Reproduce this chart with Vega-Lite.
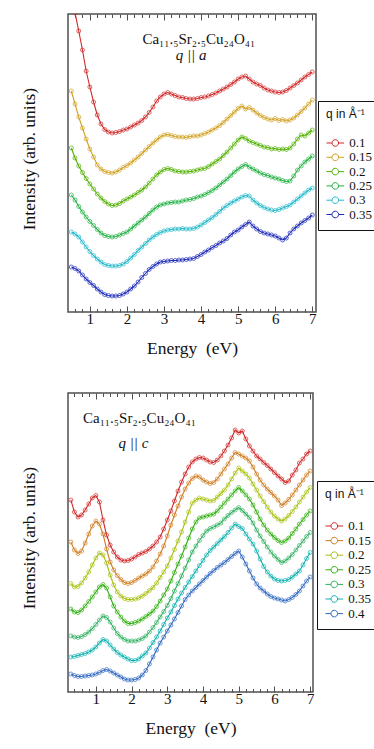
{
"$schema":"https://vega.github.io/schema/vega-lite/v6.json",
"padding":{"left":19,"top":12,"right":0,"bottom":0},
"background":"white",
"config":{
 "font":"Liberation Serif",
 "view":{"stroke":"#505050","strokeWidth":1.5},
 "axis":{"grid":false,"domain":false,"tickColor":"#505050","tickWidth":1,"labelColor":"#111","titleColor":"#111","titleFontWeight":"normal","labelFont":"Liberation Serif","titleFont":"Liberation Serif"},
 "legend":{"strokeColor":"#111","strokeWidth":1,"fillColor":"white","padding":8,"cornerRadius":0,
  "titleFont":"Liberation Sans","titleFontSize":12,"titleFontWeight":"normal","titleColor":"#111","titlePadding":15.5,
  "labelFont":"Liberation Serif","labelFontSize":13,"labelColor":"#111","rowPadding":0.3,
  "symbolType":"M-1.6,0L-0.6,0M0.6,0L1.6,0M0.6,0A0.6,0.6,0,1,1,-0.6,0A0.6,0.6,0,1,1,0.6,0",
  "symbolSize":121,"symbolStrokeWidth":1,"symbolFillColor":"transparent","symbolOffset":2.8,"labelOffset":7.5}
},
"datasets":{
"top":[
{"e":0.6,"q":"0.1","v":299},{"e":0.7,"q":"0.1","v":281},{"e":0.8,"q":"0.1","v":262},{"e":0.9,"q":"0.1","v":241},{"e":1.0,"q":"0.1","v":225},{"e":1.1,"q":"0.1","v":210},{"e":1.2,"q":"0.1","v":197},{"e":1.3,"q":"0.1","v":188},{"e":1.4,"q":"0.1","v":182.5},{"e":1.5,"q":"0.1","v":180},{"e":1.6,"q":"0.1","v":179},{"e":1.7,"q":"0.1","v":179.5},{"e":1.8,"q":"0.1","v":180.5},{"e":1.9,"q":"0.1","v":182},{"e":2.0,"q":"0.1","v":183},{"e":2.1,"q":"0.1","v":185},{"e":2.2,"q":"0.1","v":187},{"e":2.3,"q":"0.1","v":189},{"e":2.4,"q":"0.1","v":191.5},{"e":2.5,"q":"0.1","v":195},{"e":2.6,"q":"0.1","v":199.5},{"e":2.7,"q":"0.1","v":205},{"e":2.8,"q":"0.1","v":211},{"e":2.9,"q":"0.1","v":215},{"e":3.0,"q":"0.1","v":218},{"e":3.1,"q":"0.1","v":219.5},{"e":3.2,"q":"0.1","v":218},{"e":3.3,"q":"0.1","v":216.5},{"e":3.4,"q":"0.1","v":215},{"e":3.5,"q":"0.1","v":214.5},{"e":3.6,"q":"0.1","v":213.5},{"e":3.7,"q":"0.1","v":213},{"e":3.8,"q":"0.1","v":213},{"e":3.9,"q":"0.1","v":213.5},{"e":4.0,"q":"0.1","v":214.5},{"e":4.1,"q":"0.1","v":215},{"e":4.2,"q":"0.1","v":216},{"e":4.3,"q":"0.1","v":217.5},{"e":4.4,"q":"0.1","v":219},{"e":4.5,"q":"0.1","v":221},{"e":4.6,"q":"0.1","v":223},{"e":4.7,"q":"0.1","v":225},{"e":4.8,"q":"0.1","v":227.5},{"e":4.9,"q":"0.1","v":230},{"e":5.0,"q":"0.1","v":233},{"e":5.1,"q":"0.1","v":235},{"e":5.2,"q":"0.1","v":236},{"e":5.3,"q":"0.1","v":233},{"e":5.4,"q":"0.1","v":230},{"e":5.5,"q":"0.1","v":228},{"e":5.6,"q":"0.1","v":226.5},{"e":5.7,"q":"0.1","v":224},{"e":5.8,"q":"0.1","v":222},{"e":5.9,"q":"0.1","v":221},{"e":6.0,"q":"0.1","v":220},{"e":6.1,"q":"0.1","v":219.5},{"e":6.2,"q":"0.1","v":220},{"e":6.3,"q":"0.1","v":221.5},{"e":6.4,"q":"0.1","v":224},{"e":6.5,"q":"0.1","v":226.5},{"e":6.6,"q":"0.1","v":229},{"e":6.7,"q":"0.1","v":232},{"e":6.8,"q":"0.1","v":235},{"e":6.9,"q":"0.1","v":237.5},{"e":7.0,"q":"0.1","v":240},
{"e":0.5,"q":"0.15","v":221},{"e":0.6,"q":"0.15","v":208},{"e":0.7,"q":"0.15","v":195},{"e":0.8,"q":"0.15","v":184},{"e":0.9,"q":"0.15","v":173},{"e":1.0,"q":"0.15","v":163},{"e":1.1,"q":"0.15","v":155},{"e":1.2,"q":"0.15","v":147},{"e":1.3,"q":"0.15","v":143},{"e":1.4,"q":"0.15","v":140.5},{"e":1.5,"q":"0.15","v":139.5},{"e":1.6,"q":"0.15","v":139},{"e":1.7,"q":"0.15","v":140},{"e":1.8,"q":"0.15","v":142},{"e":1.9,"q":"0.15","v":144.5},{"e":2.0,"q":"0.15","v":146.5},{"e":2.1,"q":"0.15","v":149},{"e":2.2,"q":"0.15","v":152},{"e":2.3,"q":"0.15","v":155},{"e":2.4,"q":"0.15","v":158.5},{"e":2.5,"q":"0.15","v":162},{"e":2.6,"q":"0.15","v":165.5},{"e":2.7,"q":"0.15","v":169},{"e":2.8,"q":"0.15","v":172},{"e":2.9,"q":"0.15","v":175},{"e":3.0,"q":"0.15","v":177},{"e":3.1,"q":"0.15","v":177.5},{"e":3.2,"q":"0.15","v":176.5},{"e":3.3,"q":"0.15","v":175.5},{"e":3.4,"q":"0.15","v":175},{"e":3.5,"q":"0.15","v":175},{"e":3.6,"q":"0.15","v":174.5},{"e":3.7,"q":"0.15","v":175.5},{"e":3.8,"q":"0.15","v":176},{"e":3.9,"q":"0.15","v":176},{"e":4.0,"q":"0.15","v":177},{"e":4.1,"q":"0.15","v":178.5},{"e":4.2,"q":"0.15","v":180},{"e":4.3,"q":"0.15","v":182},{"e":4.4,"q":"0.15","v":184},{"e":4.5,"q":"0.15","v":186.5},{"e":4.6,"q":"0.15","v":189.5},{"e":4.7,"q":"0.15","v":193},{"e":4.8,"q":"0.15","v":196.5},{"e":4.9,"q":"0.15","v":200},{"e":5.0,"q":"0.15","v":203.5},{"e":5.1,"q":"0.15","v":206},{"e":5.2,"q":"0.15","v":203},{"e":5.3,"q":"0.15","v":204.5},{"e":5.4,"q":"0.15","v":202},{"e":5.5,"q":"0.15","v":199},{"e":5.6,"q":"0.15","v":196.5},{"e":5.7,"q":"0.15","v":194.5},{"e":5.8,"q":"0.15","v":193},{"e":5.9,"q":"0.15","v":192},{"e":6.0,"q":"0.15","v":193.5},{"e":6.1,"q":"0.15","v":191.5},{"e":6.2,"q":"0.15","v":192.5},{"e":6.3,"q":"0.15","v":191},{"e":6.4,"q":"0.15","v":192},{"e":6.5,"q":"0.15","v":194},{"e":6.6,"q":"0.15","v":197},{"e":6.7,"q":"0.15","v":200.5},{"e":6.8,"q":"0.15","v":204},{"e":6.9,"q":"0.15","v":208},{"e":7.0,"q":"0.15","v":212},
{"e":0.5,"q":"0.2","v":164},{"e":0.6,"q":"0.2","v":154},{"e":0.7,"q":"0.2","v":146},{"e":0.8,"q":"0.2","v":139.5},{"e":0.9,"q":"0.2","v":133.5},{"e":1.0,"q":"0.2","v":128},{"e":1.1,"q":"0.2","v":123},{"e":1.2,"q":"0.2","v":118},{"e":1.3,"q":"0.2","v":114},{"e":1.4,"q":"0.2","v":110.5},{"e":1.5,"q":"0.2","v":108},{"e":1.6,"q":"0.2","v":106.5},{"e":1.7,"q":"0.2","v":107},{"e":1.8,"q":"0.2","v":108.5},{"e":1.9,"q":"0.2","v":111},{"e":2.0,"q":"0.2","v":113},{"e":2.1,"q":"0.2","v":115},{"e":2.2,"q":"0.2","v":117},{"e":2.3,"q":"0.2","v":119.5},{"e":2.4,"q":"0.2","v":122},{"e":2.5,"q":"0.2","v":125},{"e":2.6,"q":"0.2","v":129},{"e":2.7,"q":"0.2","v":133},{"e":2.8,"q":"0.2","v":137},{"e":2.9,"q":"0.2","v":140},{"e":3.0,"q":"0.2","v":142.5},{"e":3.1,"q":"0.2","v":143.5},{"e":3.2,"q":"0.2","v":142.5},{"e":3.3,"q":"0.2","v":141},{"e":3.4,"q":"0.2","v":140.5},{"e":3.5,"q":"0.2","v":140},{"e":3.6,"q":"0.2","v":140},{"e":3.7,"q":"0.2","v":140.5},{"e":3.8,"q":"0.2","v":141},{"e":3.9,"q":"0.2","v":142},{"e":4.0,"q":"0.2","v":143},{"e":4.1,"q":"0.2","v":143.5},{"e":4.2,"q":"0.2","v":145.5},{"e":4.3,"q":"0.2","v":148},{"e":4.4,"q":"0.2","v":150.5},{"e":4.5,"q":"0.2","v":153},{"e":4.6,"q":"0.2","v":156.5},{"e":4.7,"q":"0.2","v":160},{"e":4.8,"q":"0.2","v":164},{"e":4.9,"q":"0.2","v":168},{"e":5.0,"q":"0.2","v":172},{"e":5.1,"q":"0.2","v":175},{"e":5.2,"q":"0.2","v":173.5},{"e":5.3,"q":"0.2","v":171},{"e":5.4,"q":"0.2","v":169.5},{"e":5.5,"q":"0.2","v":168},{"e":5.6,"q":"0.2","v":166.5},{"e":5.7,"q":"0.2","v":165},{"e":5.8,"q":"0.2","v":164.5},{"e":5.9,"q":"0.2","v":163},{"e":6.0,"q":"0.2","v":163.5},{"e":6.1,"q":"0.2","v":162.5},{"e":6.2,"q":"0.2","v":163},{"e":6.3,"q":"0.2","v":162.5},{"e":6.4,"q":"0.2","v":164},{"e":6.5,"q":"0.2","v":168},{"e":6.6,"q":"0.2","v":173},{"e":6.7,"q":"0.2","v":177},{"e":6.8,"q":"0.2","v":176},{"e":6.9,"q":"0.2","v":179},{"e":7.0,"q":"0.2","v":182},
{"e":0.5,"q":"0.25","v":117},{"e":0.6,"q":"0.25","v":112},{"e":0.7,"q":"0.25","v":105.5},{"e":0.8,"q":"0.25","v":100},{"e":0.9,"q":"0.25","v":95},{"e":1.0,"q":"0.25","v":90.5},{"e":1.1,"q":"0.25","v":86.5},{"e":1.2,"q":"0.25","v":82.5},{"e":1.3,"q":"0.25","v":79},{"e":1.4,"q":"0.25","v":76.5},{"e":1.5,"q":"0.25","v":75.5},{"e":1.6,"q":"0.25","v":75},{"e":1.7,"q":"0.25","v":75.5},{"e":1.8,"q":"0.25","v":77},{"e":1.9,"q":"0.25","v":78.5},{"e":2.0,"q":"0.25","v":80},{"e":2.1,"q":"0.25","v":83},{"e":2.2,"q":"0.25","v":86},{"e":2.3,"q":"0.25","v":89},{"e":2.4,"q":"0.25","v":92},{"e":2.5,"q":"0.25","v":95},{"e":2.6,"q":"0.25","v":98.5},{"e":2.7,"q":"0.25","v":102},{"e":2.8,"q":"0.25","v":105},{"e":2.9,"q":"0.25","v":107},{"e":3.0,"q":"0.25","v":108},{"e":3.1,"q":"0.25","v":109},{"e":3.2,"q":"0.25","v":109.5},{"e":3.3,"q":"0.25","v":110},{"e":3.4,"q":"0.25","v":110},{"e":3.5,"q":"0.25","v":111},{"e":3.6,"q":"0.25","v":112},{"e":3.7,"q":"0.25","v":112.5},{"e":3.8,"q":"0.25","v":113.5},{"e":3.9,"q":"0.25","v":115},{"e":4.0,"q":"0.25","v":116},{"e":4.1,"q":"0.25","v":117.5},{"e":4.2,"q":"0.25","v":119.5},{"e":4.3,"q":"0.25","v":121.5},{"e":4.4,"q":"0.25","v":124},{"e":4.5,"q":"0.25","v":127},{"e":4.6,"q":"0.25","v":130},{"e":4.7,"q":"0.25","v":133},{"e":4.8,"q":"0.25","v":136.5},{"e":4.9,"q":"0.25","v":140},{"e":5.0,"q":"0.25","v":143},{"e":5.1,"q":"0.25","v":145.5},{"e":5.2,"q":"0.25","v":147.5},{"e":5.3,"q":"0.25","v":145},{"e":5.4,"q":"0.25","v":143},{"e":5.5,"q":"0.25","v":141},{"e":5.6,"q":"0.25","v":139},{"e":5.7,"q":"0.25","v":137.5},{"e":5.8,"q":"0.25","v":136.5},{"e":5.9,"q":"0.25","v":135},{"e":6.0,"q":"0.25","v":134},{"e":6.1,"q":"0.25","v":133},{"e":6.2,"q":"0.25","v":131.5},{"e":6.3,"q":"0.25","v":130.5},{"e":6.4,"q":"0.25","v":131},{"e":6.5,"q":"0.25","v":136},{"e":6.6,"q":"0.25","v":142},{"e":6.7,"q":"0.25","v":146},{"e":6.8,"q":"0.25","v":150},{"e":6.9,"q":"0.25","v":153},{"e":7.0,"q":"0.25","v":156},
{"e":0.5,"q":"0.3","v":80},{"e":0.6,"q":"0.3","v":78},{"e":0.7,"q":"0.3","v":75},{"e":0.8,"q":"0.3","v":70},{"e":0.9,"q":"0.3","v":65},{"e":1.0,"q":"0.3","v":60.5},{"e":1.1,"q":"0.3","v":56.5},{"e":1.2,"q":"0.3","v":53},{"e":1.3,"q":"0.3","v":50},{"e":1.4,"q":"0.3","v":47.5},{"e":1.5,"q":"0.3","v":46.5},{"e":1.6,"q":"0.3","v":46},{"e":1.7,"q":"0.3","v":46},{"e":1.8,"q":"0.3","v":46.5},{"e":1.9,"q":"0.3","v":48},{"e":2.0,"q":"0.3","v":50.5},{"e":2.1,"q":"0.3","v":54},{"e":2.2,"q":"0.3","v":57.5},{"e":2.3,"q":"0.3","v":61.5},{"e":2.4,"q":"0.3","v":65},{"e":2.5,"q":"0.3","v":68.5},{"e":2.6,"q":"0.3","v":72},{"e":2.7,"q":"0.3","v":75},{"e":2.8,"q":"0.3","v":77.5},{"e":2.9,"q":"0.3","v":79.5},{"e":3.0,"q":"0.3","v":81},{"e":3.1,"q":"0.3","v":82},{"e":3.2,"q":"0.3","v":82.5},{"e":3.3,"q":"0.3","v":83},{"e":3.4,"q":"0.3","v":83},{"e":3.5,"q":"0.3","v":83.5},{"e":3.6,"q":"0.3","v":83},{"e":3.7,"q":"0.3","v":83},{"e":3.8,"q":"0.3","v":83.5},{"e":3.9,"q":"0.3","v":85},{"e":4.0,"q":"0.3","v":87},{"e":4.1,"q":"0.3","v":89.5},{"e":4.2,"q":"0.3","v":92},{"e":4.3,"q":"0.3","v":94.5},{"e":4.4,"q":"0.3","v":97.5},{"e":4.5,"q":"0.3","v":100.5},{"e":4.6,"q":"0.3","v":104},{"e":4.7,"q":"0.3","v":106.5},{"e":4.8,"q":"0.3","v":109},{"e":4.9,"q":"0.3","v":111},{"e":5.0,"q":"0.3","v":113},{"e":5.1,"q":"0.3","v":115},{"e":5.2,"q":"0.3","v":116.5},{"e":5.3,"q":"0.3","v":116},{"e":5.4,"q":"0.3","v":112},{"e":5.5,"q":"0.3","v":109},{"e":5.6,"q":"0.3","v":106.5},{"e":5.7,"q":"0.3","v":104.5},{"e":5.8,"q":"0.3","v":103},{"e":5.9,"q":"0.3","v":102},{"e":6.0,"q":"0.3","v":101.5},{"e":6.1,"q":"0.3","v":102.5},{"e":6.2,"q":"0.3","v":104},{"e":6.3,"q":"0.3","v":105.5},{"e":6.4,"q":"0.3","v":107},{"e":6.5,"q":"0.3","v":110},{"e":6.6,"q":"0.3","v":113},{"e":6.7,"q":"0.3","v":116},{"e":6.8,"q":"0.3","v":119},{"e":6.9,"q":"0.3","v":122},{"e":7.0,"q":"0.3","v":124},
{"e":0.5,"q":"0.35","v":45},{"e":0.6,"q":"0.35","v":43.5},{"e":0.7,"q":"0.35","v":41},{"e":0.8,"q":"0.35","v":37},{"e":0.9,"q":"0.35","v":33},{"e":1.0,"q":"0.35","v":29.5},{"e":1.1,"q":"0.35","v":26.5},{"e":1.2,"q":"0.35","v":23},{"e":1.3,"q":"0.35","v":20},{"e":1.4,"q":"0.35","v":17.5},{"e":1.5,"q":"0.35","v":16.5},{"e":1.6,"q":"0.35","v":16},{"e":1.7,"q":"0.35","v":16},{"e":1.8,"q":"0.35","v":16.5},{"e":1.9,"q":"0.35","v":18},{"e":2.0,"q":"0.35","v":20},{"e":2.1,"q":"0.35","v":23},{"e":2.2,"q":"0.35","v":26},{"e":2.3,"q":"0.35","v":30},{"e":2.4,"q":"0.35","v":34.5},{"e":2.5,"q":"0.35","v":38.5},{"e":2.6,"q":"0.35","v":42.5},{"e":2.7,"q":"0.35","v":45.5},{"e":2.8,"q":"0.35","v":48},{"e":2.9,"q":"0.35","v":50},{"e":3.0,"q":"0.35","v":50.5},{"e":3.1,"q":"0.35","v":51},{"e":3.2,"q":"0.35","v":51.5},{"e":3.3,"q":"0.35","v":51.5},{"e":3.4,"q":"0.35","v":52},{"e":3.5,"q":"0.35","v":52},{"e":3.6,"q":"0.35","v":52.5},{"e":3.7,"q":"0.35","v":53},{"e":3.8,"q":"0.35","v":53.5},{"e":3.9,"q":"0.35","v":55.5},{"e":4.0,"q":"0.35","v":57.5},{"e":4.1,"q":"0.35","v":60},{"e":4.2,"q":"0.35","v":62},{"e":4.3,"q":"0.35","v":64.5},{"e":4.4,"q":"0.35","v":66.5},{"e":4.5,"q":"0.35","v":69},{"e":4.6,"q":"0.35","v":71},{"e":4.7,"q":"0.35","v":73.5},{"e":4.8,"q":"0.35","v":77},{"e":4.9,"q":"0.35","v":80},{"e":5.0,"q":"0.35","v":82},{"e":5.1,"q":"0.35","v":85},{"e":5.2,"q":"0.35","v":87.5},{"e":5.3,"q":"0.35","v":90},{"e":5.4,"q":"0.35","v":86},{"e":5.5,"q":"0.35","v":83},{"e":5.6,"q":"0.35","v":80.5},{"e":5.7,"q":"0.35","v":79},{"e":5.8,"q":"0.35","v":78},{"e":5.9,"q":"0.35","v":77},{"e":6.0,"q":"0.35","v":76},{"e":6.1,"q":"0.35","v":74},{"e":6.2,"q":"0.35","v":72},{"e":6.3,"q":"0.35","v":74},{"e":6.4,"q":"0.35","v":79},{"e":6.5,"q":"0.35","v":83},{"e":6.6,"q":"0.35","v":86},{"e":6.7,"q":"0.35","v":89},{"e":6.8,"q":"0.35","v":91.5},{"e":6.9,"q":"0.35","v":94},{"e":7.0,"q":"0.35","v":97}
],
"bot":[
{"e":0.3,"q":"0.1","v":192},{"e":0.4,"q":"0.1","v":180},{"e":0.5,"q":"0.1","v":175},{"e":0.6,"q":"0.1","v":177},{"e":0.7,"q":"0.1","v":182},{"e":0.8,"q":"0.1","v":188},{"e":0.9,"q":"0.1","v":194},{"e":1.0,"q":"0.1","v":196.5},{"e":1.1,"q":"0.1","v":190},{"e":1.2,"q":"0.1","v":172},{"e":1.3,"q":"0.1","v":157},{"e":1.4,"q":"0.1","v":147},{"e":1.5,"q":"0.1","v":140},{"e":1.6,"q":"0.1","v":135},{"e":1.7,"q":"0.1","v":132},{"e":1.8,"q":"0.1","v":131},{"e":1.9,"q":"0.1","v":131.5},{"e":2.0,"q":"0.1","v":133},{"e":2.1,"q":"0.1","v":135},{"e":2.2,"q":"0.1","v":137.5},{"e":2.3,"q":"0.1","v":139},{"e":2.4,"q":"0.1","v":140.5},{"e":2.5,"q":"0.1","v":143},{"e":2.6,"q":"0.1","v":146},{"e":2.7,"q":"0.1","v":150},{"e":2.8,"q":"0.1","v":155},{"e":2.9,"q":"0.1","v":163},{"e":3.0,"q":"0.1","v":172},{"e":3.1,"q":"0.1","v":181},{"e":3.2,"q":"0.1","v":191},{"e":3.3,"q":"0.1","v":201},{"e":3.4,"q":"0.1","v":210},{"e":3.5,"q":"0.1","v":218},{"e":3.6,"q":"0.1","v":225},{"e":3.7,"q":"0.1","v":230},{"e":3.8,"q":"0.1","v":233},{"e":3.9,"q":"0.1","v":234.5},{"e":4.0,"q":"0.1","v":234},{"e":4.1,"q":"0.1","v":232},{"e":4.2,"q":"0.1","v":230},{"e":4.3,"q":"0.1","v":229.5},{"e":4.4,"q":"0.1","v":232},{"e":4.5,"q":"0.1","v":236},{"e":4.6,"q":"0.1","v":241},{"e":4.7,"q":"0.1","v":247},{"e":4.8,"q":"0.1","v":254},{"e":4.9,"q":"0.1","v":262},{"e":5.0,"q":"0.1","v":259},{"e":5.1,"q":"0.1","v":261},{"e":5.2,"q":"0.1","v":253},{"e":5.3,"q":"0.1","v":246},{"e":5.4,"q":"0.1","v":241},{"e":5.5,"q":"0.1","v":236},{"e":5.6,"q":"0.1","v":233},{"e":5.7,"q":"0.1","v":229.5},{"e":5.8,"q":"0.1","v":226.5},{"e":5.9,"q":"0.1","v":223},{"e":6.0,"q":"0.1","v":219.5},{"e":6.1,"q":"0.1","v":216},{"e":6.2,"q":"0.1","v":213},{"e":6.3,"q":"0.1","v":209.5},{"e":6.4,"q":"0.1","v":211},{"e":6.5,"q":"0.1","v":217},{"e":6.6,"q":"0.1","v":222},{"e":6.7,"q":"0.1","v":229},{"e":6.8,"q":"0.1","v":233},{"e":6.9,"q":"0.1","v":238},{"e":7.0,"q":"0.1","v":241},
{"e":0.3,"q":"0.15","v":150},{"e":0.4,"q":"0.15","v":142},{"e":0.5,"q":"0.15","v":138.5},{"e":0.6,"q":"0.15","v":141},{"e":0.7,"q":"0.15","v":149},{"e":0.8,"q":"0.15","v":158},{"e":0.9,"q":"0.15","v":166},{"e":1.0,"q":"0.15","v":171},{"e":1.1,"q":"0.15","v":168},{"e":1.2,"q":"0.15","v":158},{"e":1.3,"q":"0.15","v":143},{"e":1.4,"q":"0.15","v":130},{"e":1.5,"q":"0.15","v":122},{"e":1.6,"q":"0.15","v":116.5},{"e":1.7,"q":"0.15","v":112.5},{"e":1.8,"q":"0.15","v":109.5},{"e":1.9,"q":"0.15","v":108.5},{"e":2.0,"q":"0.15","v":109.5},{"e":2.1,"q":"0.15","v":111.5},{"e":2.2,"q":"0.15","v":114},{"e":2.3,"q":"0.15","v":116},{"e":2.4,"q":"0.15","v":118},{"e":2.5,"q":"0.15","v":121},{"e":2.6,"q":"0.15","v":125},{"e":2.7,"q":"0.15","v":131},{"e":2.8,"q":"0.15","v":138},{"e":2.9,"q":"0.15","v":146},{"e":3.0,"q":"0.15","v":156},{"e":3.1,"q":"0.15","v":167},{"e":3.2,"q":"0.15","v":177},{"e":3.3,"q":"0.15","v":186},{"e":3.4,"q":"0.15","v":195},{"e":3.5,"q":"0.15","v":203},{"e":3.6,"q":"0.15","v":209},{"e":3.7,"q":"0.15","v":213.5},{"e":3.8,"q":"0.15","v":216},{"e":3.9,"q":"0.15","v":215},{"e":4.0,"q":"0.15","v":212},{"e":4.1,"q":"0.15","v":210},{"e":4.2,"q":"0.15","v":208.5},{"e":4.3,"q":"0.15","v":209.5},{"e":4.4,"q":"0.15","v":213},{"e":4.5,"q":"0.15","v":218},{"e":4.6,"q":"0.15","v":223},{"e":4.7,"q":"0.15","v":228},{"e":4.8,"q":"0.15","v":234},{"e":4.9,"q":"0.15","v":239.5},{"e":5.0,"q":"0.15","v":238},{"e":5.1,"q":"0.15","v":236},{"e":5.2,"q":"0.15","v":234},{"e":5.3,"q":"0.15","v":231},{"e":5.4,"q":"0.15","v":225},{"e":5.5,"q":"0.15","v":218},{"e":5.6,"q":"0.15","v":212},{"e":5.7,"q":"0.15","v":207},{"e":5.8,"q":"0.15","v":203},{"e":5.9,"q":"0.15","v":199.5},{"e":6.0,"q":"0.15","v":196},{"e":6.1,"q":"0.15","v":192},{"e":6.2,"q":"0.15","v":186.5},{"e":6.3,"q":"0.15","v":189},{"e":6.4,"q":"0.15","v":192.5},{"e":6.5,"q":"0.15","v":197},{"e":6.6,"q":"0.15","v":202},{"e":6.7,"q":"0.15","v":207},{"e":6.8,"q":"0.15","v":212},{"e":6.9,"q":"0.15","v":217},{"e":7.0,"q":"0.15","v":221},
{"e":0.3,"q":"0.2","v":108.5},{"e":0.4,"q":"0.2","v":105},{"e":0.5,"q":"0.2","v":105.5},{"e":0.6,"q":"0.2","v":109},{"e":0.7,"q":"0.2","v":114},{"e":0.8,"q":"0.2","v":120},{"e":0.9,"q":"0.2","v":127},{"e":1.0,"q":"0.2","v":134},{"e":1.1,"q":"0.2","v":139},{"e":1.2,"q":"0.2","v":137},{"e":1.3,"q":"0.2","v":129},{"e":1.4,"q":"0.2","v":117},{"e":1.5,"q":"0.2","v":107},{"e":1.6,"q":"0.2","v":100},{"e":1.7,"q":"0.2","v":96},{"e":1.8,"q":"0.2","v":93.5},{"e":1.9,"q":"0.2","v":92.5},{"e":2.0,"q":"0.2","v":92.5},{"e":2.1,"q":"0.2","v":93},{"e":2.2,"q":"0.2","v":94},{"e":2.3,"q":"0.2","v":96},{"e":2.4,"q":"0.2","v":98.5},{"e":2.5,"q":"0.2","v":101.5},{"e":2.6,"q":"0.2","v":104.5},{"e":2.7,"q":"0.2","v":109},{"e":2.8,"q":"0.2","v":114.5},{"e":2.9,"q":"0.2","v":120},{"e":3.0,"q":"0.2","v":126},{"e":3.1,"q":"0.2","v":134},{"e":3.2,"q":"0.2","v":142.5},{"e":3.3,"q":"0.2","v":151},{"e":3.4,"q":"0.2","v":160},{"e":3.5,"q":"0.2","v":170},{"e":3.6,"q":"0.2","v":180},{"e":3.7,"q":"0.2","v":189},{"e":3.8,"q":"0.2","v":192},{"e":3.9,"q":"0.2","v":194},{"e":4.0,"q":"0.2","v":193},{"e":4.1,"q":"0.2","v":192},{"e":4.2,"q":"0.2","v":191},{"e":4.3,"q":"0.2","v":191.5},{"e":4.4,"q":"0.2","v":195},{"e":4.5,"q":"0.2","v":198.5},{"e":4.6,"q":"0.2","v":202},{"e":4.7,"q":"0.2","v":207},{"e":4.8,"q":"0.2","v":213},{"e":4.9,"q":"0.2","v":219},{"e":5.0,"q":"0.2","v":224},{"e":5.1,"q":"0.2","v":221},{"e":5.2,"q":"0.2","v":218},{"e":5.3,"q":"0.2","v":214},{"e":5.4,"q":"0.2","v":208},{"e":5.5,"q":"0.2","v":202},{"e":5.6,"q":"0.2","v":196},{"e":5.7,"q":"0.2","v":190.5},{"e":5.8,"q":"0.2","v":185},{"e":5.9,"q":"0.2","v":180},{"e":6.0,"q":"0.2","v":176},{"e":6.1,"q":"0.2","v":173},{"e":6.2,"q":"0.2","v":171},{"e":6.3,"q":"0.2","v":173},{"e":6.4,"q":"0.2","v":176.5},{"e":6.5,"q":"0.2","v":180.5},{"e":6.6,"q":"0.2","v":185},{"e":6.7,"q":"0.2","v":190},{"e":6.8,"q":"0.2","v":195},{"e":6.9,"q":"0.2","v":200},{"e":7.0,"q":"0.2","v":204.5},
{"e":0.3,"q":"0.25","v":83},{"e":0.4,"q":"0.25","v":80},{"e":0.5,"q":"0.25","v":79.5},{"e":0.6,"q":"0.25","v":82},{"e":0.7,"q":"0.25","v":86},{"e":0.8,"q":"0.25","v":90.5},{"e":0.9,"q":"0.25","v":95},{"e":1.0,"q":"0.25","v":100},{"e":1.1,"q":"0.25","v":105},{"e":1.2,"q":"0.25","v":107.5},{"e":1.3,"q":"0.25","v":104},{"e":1.4,"q":"0.25","v":95},{"e":1.5,"q":"0.25","v":86},{"e":1.6,"q":"0.25","v":80},{"e":1.7,"q":"0.25","v":75},{"e":1.8,"q":"0.25","v":71},{"e":1.9,"q":"0.25","v":68.5},{"e":2.0,"q":"0.25","v":68.5},{"e":2.1,"q":"0.25","v":69.5},{"e":2.2,"q":"0.25","v":71},{"e":2.3,"q":"0.25","v":73},{"e":2.4,"q":"0.25","v":75.5},{"e":2.5,"q":"0.25","v":78},{"e":2.6,"q":"0.25","v":81},{"e":2.7,"q":"0.25","v":85.5},{"e":2.8,"q":"0.25","v":91},{"e":2.9,"q":"0.25","v":97},{"e":3.0,"q":"0.25","v":103},{"e":3.1,"q":"0.25","v":111},{"e":3.2,"q":"0.25","v":119.5},{"e":3.3,"q":"0.25","v":128},{"e":3.4,"q":"0.25","v":136},{"e":3.5,"q":"0.25","v":145},{"e":3.6,"q":"0.25","v":154},{"e":3.7,"q":"0.25","v":163},{"e":3.8,"q":"0.25","v":170},{"e":3.9,"q":"0.25","v":174},{"e":4.0,"q":"0.25","v":175},{"e":4.1,"q":"0.25","v":176},{"e":4.2,"q":"0.25","v":177},{"e":4.3,"q":"0.25","v":178},{"e":4.4,"q":"0.25","v":181},{"e":4.5,"q":"0.25","v":185},{"e":4.6,"q":"0.25","v":189},{"e":4.7,"q":"0.25","v":193},{"e":4.8,"q":"0.25","v":197},{"e":4.9,"q":"0.25","v":201},{"e":5.0,"q":"0.25","v":204.5},{"e":5.1,"q":"0.25","v":201},{"e":5.2,"q":"0.25","v":197},{"e":5.3,"q":"0.25","v":193},{"e":5.4,"q":"0.25","v":187},{"e":5.5,"q":"0.25","v":180},{"e":5.6,"q":"0.25","v":173},{"e":5.7,"q":"0.25","v":167},{"e":5.8,"q":"0.25","v":162},{"e":5.9,"q":"0.25","v":158},{"e":6.0,"q":"0.25","v":154.5},{"e":6.1,"q":"0.25","v":151.5},{"e":6.2,"q":"0.25","v":149.5},{"e":6.3,"q":"0.25","v":151},{"e":6.4,"q":"0.25","v":154},{"e":6.5,"q":"0.25","v":158.5},{"e":6.6,"q":"0.25","v":163},{"e":6.7,"q":"0.25","v":168},{"e":6.8,"q":"0.25","v":172.5},{"e":6.9,"q":"0.25","v":177},{"e":7.0,"q":"0.25","v":181},
{"e":0.3,"q":"0.3","v":56},{"e":0.4,"q":"0.3","v":55},{"e":0.5,"q":"0.3","v":54.5},{"e":0.6,"q":"0.3","v":55.5},{"e":0.7,"q":"0.3","v":57.5},{"e":0.8,"q":"0.3","v":60},{"e":0.9,"q":"0.3","v":63.5},{"e":1.0,"q":"0.3","v":67.5},{"e":1.1,"q":"0.3","v":72},{"e":1.2,"q":"0.3","v":76},{"e":1.3,"q":"0.3","v":74.5},{"e":1.4,"q":"0.3","v":70},{"e":1.5,"q":"0.3","v":64},{"e":1.6,"q":"0.3","v":58.5},{"e":1.7,"q":"0.3","v":55},{"e":1.8,"q":"0.3","v":52.5},{"e":1.9,"q":"0.3","v":51},{"e":2.0,"q":"0.3","v":51},{"e":2.1,"q":"0.3","v":51},{"e":2.2,"q":"0.3","v":52},{"e":2.3,"q":"0.3","v":53.5},{"e":2.4,"q":"0.3","v":56},{"e":2.5,"q":"0.3","v":60},{"e":2.6,"q":"0.3","v":64.5},{"e":2.7,"q":"0.3","v":69.5},{"e":2.8,"q":"0.3","v":75},{"e":2.9,"q":"0.3","v":80.5},{"e":3.0,"q":"0.3","v":86.5},{"e":3.1,"q":"0.3","v":93.5},{"e":3.2,"q":"0.3","v":101},{"e":3.3,"q":"0.3","v":108.5},{"e":3.4,"q":"0.3","v":116},{"e":3.5,"q":"0.3","v":124},{"e":3.6,"q":"0.3","v":132},{"e":3.7,"q":"0.3","v":140},{"e":3.8,"q":"0.3","v":146},{"e":3.9,"q":"0.3","v":151.5},{"e":4.0,"q":"0.3","v":156.5},{"e":4.1,"q":"0.3","v":161},{"e":4.2,"q":"0.3","v":163.5},{"e":4.3,"q":"0.3","v":165},{"e":4.4,"q":"0.3","v":167},{"e":4.5,"q":"0.3","v":169},{"e":4.6,"q":"0.3","v":173},{"e":4.7,"q":"0.3","v":176.5},{"e":4.8,"q":"0.3","v":179.5},{"e":4.9,"q":"0.3","v":182},{"e":5.0,"q":"0.3","v":184.5},{"e":5.1,"q":"0.3","v":181.5},{"e":5.2,"q":"0.3","v":178},{"e":5.3,"q":"0.3","v":174.5},{"e":5.4,"q":"0.3","v":169},{"e":5.5,"q":"0.3","v":162},{"e":5.6,"q":"0.3","v":156},{"e":5.7,"q":"0.3","v":150.5},{"e":5.8,"q":"0.3","v":145},{"e":5.9,"q":"0.3","v":140},{"e":6.0,"q":"0.3","v":136},{"e":6.1,"q":"0.3","v":132.5},{"e":6.2,"q":"0.3","v":129.5},{"e":6.3,"q":"0.3","v":131},{"e":6.4,"q":"0.3","v":134},{"e":6.5,"q":"0.3","v":137.5},{"e":6.6,"q":"0.3","v":142},{"e":6.7,"q":"0.3","v":146.5},{"e":6.8,"q":"0.3","v":151},{"e":6.9,"q":"0.3","v":155.5},{"e":7.0,"q":"0.3","v":159.5},
{"e":0.3,"q":"0.35","v":35},{"e":0.4,"q":"0.35","v":35.5},{"e":0.5,"q":"0.35","v":36.5},{"e":0.6,"q":"0.35","v":37.5},{"e":0.7,"q":"0.35","v":38.5},{"e":0.8,"q":"0.35","v":40},{"e":0.9,"q":"0.35","v":42},{"e":1.0,"q":"0.35","v":45},{"e":1.1,"q":"0.35","v":49},{"e":1.2,"q":"0.35","v":52.5},{"e":1.3,"q":"0.35","v":51},{"e":1.4,"q":"0.35","v":47},{"e":1.5,"q":"0.35","v":43},{"e":1.6,"q":"0.35","v":39.5},{"e":1.7,"q":"0.35","v":37},{"e":1.8,"q":"0.35","v":35},{"e":1.9,"q":"0.35","v":33},{"e":2.0,"q":"0.35","v":31.5},{"e":2.1,"q":"0.35","v":31.5},{"e":2.2,"q":"0.35","v":33},{"e":2.3,"q":"0.35","v":36},{"e":2.4,"q":"0.35","v":39},{"e":2.5,"q":"0.35","v":44},{"e":2.6,"q":"0.35","v":49.5},{"e":2.7,"q":"0.35","v":55},{"e":2.8,"q":"0.35","v":61},{"e":2.9,"q":"0.35","v":67.5},{"e":3.0,"q":"0.35","v":74},{"e":3.1,"q":"0.35","v":80},{"e":3.2,"q":"0.35","v":86.5},{"e":3.3,"q":"0.35","v":93},{"e":3.4,"q":"0.35","v":99},{"e":3.5,"q":"0.35","v":104.5},{"e":3.6,"q":"0.35","v":110},{"e":3.7,"q":"0.35","v":115.5},{"e":3.8,"q":"0.35","v":121},{"e":3.9,"q":"0.35","v":126.5},{"e":4.0,"q":"0.35","v":131.5},{"e":4.1,"q":"0.35","v":137},{"e":4.2,"q":"0.35","v":141.5},{"e":4.3,"q":"0.35","v":145},{"e":4.4,"q":"0.35","v":148.5},{"e":4.5,"q":"0.35","v":152},{"e":4.6,"q":"0.35","v":155.5},{"e":4.7,"q":"0.35","v":159.5},{"e":4.8,"q":"0.35","v":164},{"e":4.9,"q":"0.35","v":168},{"e":5.0,"q":"0.35","v":165.5},{"e":5.1,"q":"0.35","v":163.5},{"e":5.2,"q":"0.35","v":158},{"e":5.3,"q":"0.35","v":153},{"e":5.4,"q":"0.35","v":148},{"e":5.5,"q":"0.35","v":141},{"e":5.6,"q":"0.35","v":133},{"e":5.7,"q":"0.35","v":125.5},{"e":5.8,"q":"0.35","v":120},{"e":5.9,"q":"0.35","v":116},{"e":6.0,"q":"0.35","v":113},{"e":6.1,"q":"0.35","v":111.5},{"e":6.2,"q":"0.35","v":111},{"e":6.3,"q":"0.35","v":111.5},{"e":6.4,"q":"0.35","v":112.5},{"e":6.5,"q":"0.35","v":115},{"e":6.6,"q":"0.35","v":118},{"e":6.7,"q":"0.35","v":121},{"e":6.8,"q":"0.35","v":127},{"e":6.9,"q":"0.35","v":133.5},{"e":7.0,"q":"0.35","v":139.5},
{"e":0.3,"q":"0.4","v":18},{"e":0.4,"q":"0.4","v":16.5},{"e":0.5,"q":"0.4","v":15.5},{"e":0.6,"q":"0.4","v":15.5},{"e":0.7,"q":"0.4","v":16},{"e":0.8,"q":"0.4","v":16.5},{"e":0.9,"q":"0.4","v":17},{"e":1.0,"q":"0.4","v":18},{"e":1.1,"q":"0.4","v":19.5},{"e":1.2,"q":"0.4","v":21.5},{"e":1.3,"q":"0.4","v":22.5},{"e":1.4,"q":"0.4","v":21},{"e":1.5,"q":"0.4","v":19},{"e":1.6,"q":"0.4","v":17},{"e":1.7,"q":"0.4","v":15},{"e":1.8,"q":"0.4","v":13},{"e":1.9,"q":"0.4","v":12},{"e":2.0,"q":"0.4","v":12},{"e":2.1,"q":"0.4","v":12.5},{"e":2.2,"q":"0.4","v":14},{"e":2.3,"q":"0.4","v":17},{"e":2.4,"q":"0.4","v":21.5},{"e":2.5,"q":"0.4","v":28},{"e":2.6,"q":"0.4","v":35},{"e":2.7,"q":"0.4","v":42},{"e":2.8,"q":"0.4","v":49},{"e":2.9,"q":"0.4","v":55},{"e":3.0,"q":"0.4","v":61},{"e":3.1,"q":"0.4","v":67},{"e":3.2,"q":"0.4","v":73},{"e":3.3,"q":"0.4","v":79.5},{"e":3.4,"q":"0.4","v":86},{"e":3.5,"q":"0.4","v":92.5},{"e":3.6,"q":"0.4","v":97},{"e":3.7,"q":"0.4","v":101},{"e":3.8,"q":"0.4","v":104.5},{"e":3.9,"q":"0.4","v":108},{"e":4.0,"q":"0.4","v":111.5},{"e":4.1,"q":"0.4","v":115},{"e":4.2,"q":"0.4","v":118.5},{"e":4.3,"q":"0.4","v":121.5},{"e":4.4,"q":"0.4","v":124.5},{"e":4.5,"q":"0.4","v":127},{"e":4.6,"q":"0.4","v":129.5},{"e":4.7,"q":"0.4","v":132.5},{"e":4.8,"q":"0.4","v":135.5},{"e":4.9,"q":"0.4","v":138.5},{"e":5.0,"q":"0.4","v":141},{"e":5.1,"q":"0.4","v":135},{"e":5.2,"q":"0.4","v":128},{"e":5.3,"q":"0.4","v":121},{"e":5.4,"q":"0.4","v":114},{"e":5.5,"q":"0.4","v":108},{"e":5.6,"q":"0.4","v":104},{"e":5.7,"q":"0.4","v":101},{"e":5.8,"q":"0.4","v":98},{"e":5.9,"q":"0.4","v":95.5},{"e":6.0,"q":"0.4","v":94},{"e":6.1,"q":"0.4","v":93},{"e":6.2,"q":"0.4","v":92},{"e":6.3,"q":"0.4","v":91},{"e":6.4,"q":"0.4","v":92.5},{"e":6.5,"q":"0.4","v":94.5},{"e":6.6,"q":"0.4","v":97.5},{"e":6.7,"q":"0.4","v":101},{"e":6.8,"q":"0.4","v":106},{"e":6.9,"q":"0.4","v":111},{"e":7.0,"q":"0.4","v":115}
]
},
"vconcat":[
{
 "width":248,"height":298,
 "layer":[
  {"data":{"name":"top"},
   "mark":{"type":"line","strokeWidth":1.1,"clip":true},
   "encoding":{
    "x":{"field":"e","type":"quantitative","scale":{"domain":[0.41,7.1],"nice":false,"zero":false},
     "axis":{"orient":"bottom","title":"Energy\u00a0 (eV)","values":[0.6,0.8,1,1.2,1.4,1.6,1.8,2,2.2,2.4,2.6,2.8,3,3.2,3.4,3.6,3.8,4,4.2,4.4,4.6,4.8,5,5.2,5.4,5.6,5.8,6,6.2,6.4,6.6,6.8,7],
      "labelExpr":"datum.value % 1 === 0 ? format(datum.value, 'd') : ''","tickSize":{"condition":{"test":"datum.value % 1 === 0","value":-6},"value":-3.5},
      "labelFontSize":15,"labelPadding":5,"titleFontSize":17.5,"titlePadding":11,"labelOverlap":false,"labelFlush":false}},
    "y":{"field":"v","type":"quantitative","scale":{"domain":[0,298],"nice":false,"zero":false},
     "axis":{"title":"Intensity (arb. units)","ticks":false,"labels":false,"titleFontSize":17.5,"titlePadding":30,"titleY":144.5}},
    "color":{"field":"q","type":"nominal","scale":{"domain":["0.1","0.15","0.2","0.25","0.3","0.35"],"range":["#d02828","#d0a020","#50b000","#20b040","#20b8c8","#1c2ab8"]},
     "legend":{"orient":"none","legendX":250,"legendY":87,"title":"q in Å⁻¹"}}
   }},
  {"data":{"name":"top"},
   "mark":{"type":"point","filled":false,"size":16,"strokeWidth":0.7,"opacity":1,"clip":true},
   "encoding":{
    "x":{"field":"e","type":"quantitative","axis":{"orient":"top","labels":false,"title":null,"values":[0.6,0.8,1,1.2,1.4,1.6,1.8,2,2.2,2.4,2.6,2.8,3,3.2,3.4,3.6,3.8,4,4.2,4.4,4.6,4.8,5,5.2,5.4,5.6,5.8,6,6.2,6.4,6.6,6.8,7],"tickSize":{"condition":{"test":"datum.value % 1 === 0","value":-6},"value":-3.5}}},
    "y":{"field":"v","type":"quantitative","axis":{"title":"Intensity (arb. units)","ticks":false,"labels":false,"titleFontSize":17.5,"titlePadding":30,"titleY":144.5}},
    "color":{"field":"q","type":"nominal"}
   }},
  {"data":{"values":[{}]},
   "mark":{"type":"text","font":"Liberation Serif","fontSize":15,"color":"#111"},
   "encoding":{"x":{"datum":3.94,"type":"quantitative","axis":null},"y":{"datum":273,"type":"quantitative","axis":{"title":"Intensity (arb. units)","ticks":false,"labels":false,"titleFontSize":17.5,"titlePadding":30,"titleY":144.5}},"text":{"value":"Ca₁₁.₅Sr₂.₅Cu₂₄O₄₁"}}},
  {"data":{"values":[{}]},
   "mark":{"type":"text","font":"Liberation Serif","fontSize":15,"fontStyle":"italic","color":"#111"},
   "encoding":{"x":{"datum":3.73,"type":"quantitative","axis":null},"y":{"datum":257,"type":"quantitative","axis":{"title":"Intensity (arb. units)","ticks":false,"labels":false,"titleFontSize":17.5,"titlePadding":30,"titleY":144.5}},"text":{"value":"q || a"}}}
 ],
 "resolve":{"axis":{"x":"independent"}}
},
{
 "width":245,"height":299,
 "layer":[
  {"data":{"name":"bot"},
   "mark":{"type":"line","strokeWidth":1.1,"clip":true},
   "encoding":{
    "x":{"field":"e","type":"quantitative","scale":{"domain":[0.22,7.08],"nice":false,"zero":false},
     "axis":{"orient":"bottom","title":"Energy\u00a0 (eV)","values":[0.4,0.6,0.8,1,1.2,1.4,1.6,1.8,2,2.2,2.4,2.6,2.8,3,3.2,3.4,3.6,3.8,4,4.2,4.4,4.6,4.8,5,5.2,5.4,5.6,5.8,6,6.2,6.4,6.6,6.8,7],
      "labelExpr":"datum.value % 1 === 0 ? format(datum.value, 'd') : ''","tickSize":{"condition":{"test":"datum.value % 1 === 0","value":-6},"value":-3.5},
      "labelFontSize":15,"labelPadding":5,"titleFontSize":17.5,"titlePadding":11,"labelOverlap":false,"labelFlush":false}},
    "y":{"field":"v","type":"quantitative","scale":{"domain":[0,299],"nice":false,"zero":false},
     "axis":{"title":"Intensity (arb. units)","ticks":false,"labels":false,"titleFontSize":17.5,"titlePadding":30,"titleY":144.5}},
    "color":{"field":"q","type":"nominal","scale":{"domain":["0.1","0.15","0.2","0.25","0.3","0.35","0.4"],"range":["#d02828","#d07d20","#a8c010","#30b010","#30b060","#10b0b0","#3068c0"]},
     "legend":{"orient":"none","legendX":249,"legendY":88,"title":"q in Å⁻¹","titlePadding":18.5,"rowPadding":0.6}}
   }},
  {"data":{"name":"bot"},
   "mark":{"type":"point","filled":false,"size":16,"strokeWidth":0.7,"opacity":1,"clip":true},
   "encoding":{
    "x":{"field":"e","type":"quantitative","axis":{"orient":"top","labels":false,"title":null,"values":[0.4,0.6,0.8,1,1.2,1.4,1.6,1.8,2,2.2,2.4,2.6,2.8,3,3.2,3.4,3.6,3.8,4,4.2,4.4,4.6,4.8,5,5.2,5.4,5.6,5.8,6,6.2,6.4,6.6,6.8,7],"tickSize":{"condition":{"test":"datum.value % 1 === 0","value":-6},"value":-3.5}}},
    "y":{"field":"v","type":"quantitative","axis":{"title":"Intensity (arb. units)","ticks":false,"labels":false,"titleFontSize":17.5,"titlePadding":30,"titleY":144.5}},
    "color":{"field":"q","type":"nominal"}
   }},
  {"data":{"values":[{}]},
   "mark":{"type":"text","font":"Liberation Serif","fontSize":15,"color":"#111"},
   "encoding":{"x":{"datum":2.22,"type":"quantitative","axis":null},"y":{"datum":274,"type":"quantitative","axis":{"title":"Intensity (arb. units)","ticks":false,"labels":false,"titleFontSize":17.5,"titlePadding":30,"titleY":144.5}},"text":{"value":"Ca₁₁.₅Sr₂.₅Cu₂₄O₄₁"}}},
  {"data":{"values":[{}]},
   "mark":{"type":"text","font":"Liberation Serif","fontSize":15,"fontStyle":"italic","color":"#111"},
   "encoding":{"x":{"datum":2.05,"type":"quantitative","axis":null},"y":{"datum":249,"type":"quantitative","axis":{"title":"Intensity (arb. units)","ticks":false,"labels":false,"titleFontSize":17.5,"titlePadding":30,"titleY":144.5}},"text":{"value":"q || c"}}}
 ],
 "resolve":{"axis":{"x":"independent"}}
}
],
"spacing":33,
"resolve":{"scale":{"color":"independent","x":"independent","y":"independent"}}
}
